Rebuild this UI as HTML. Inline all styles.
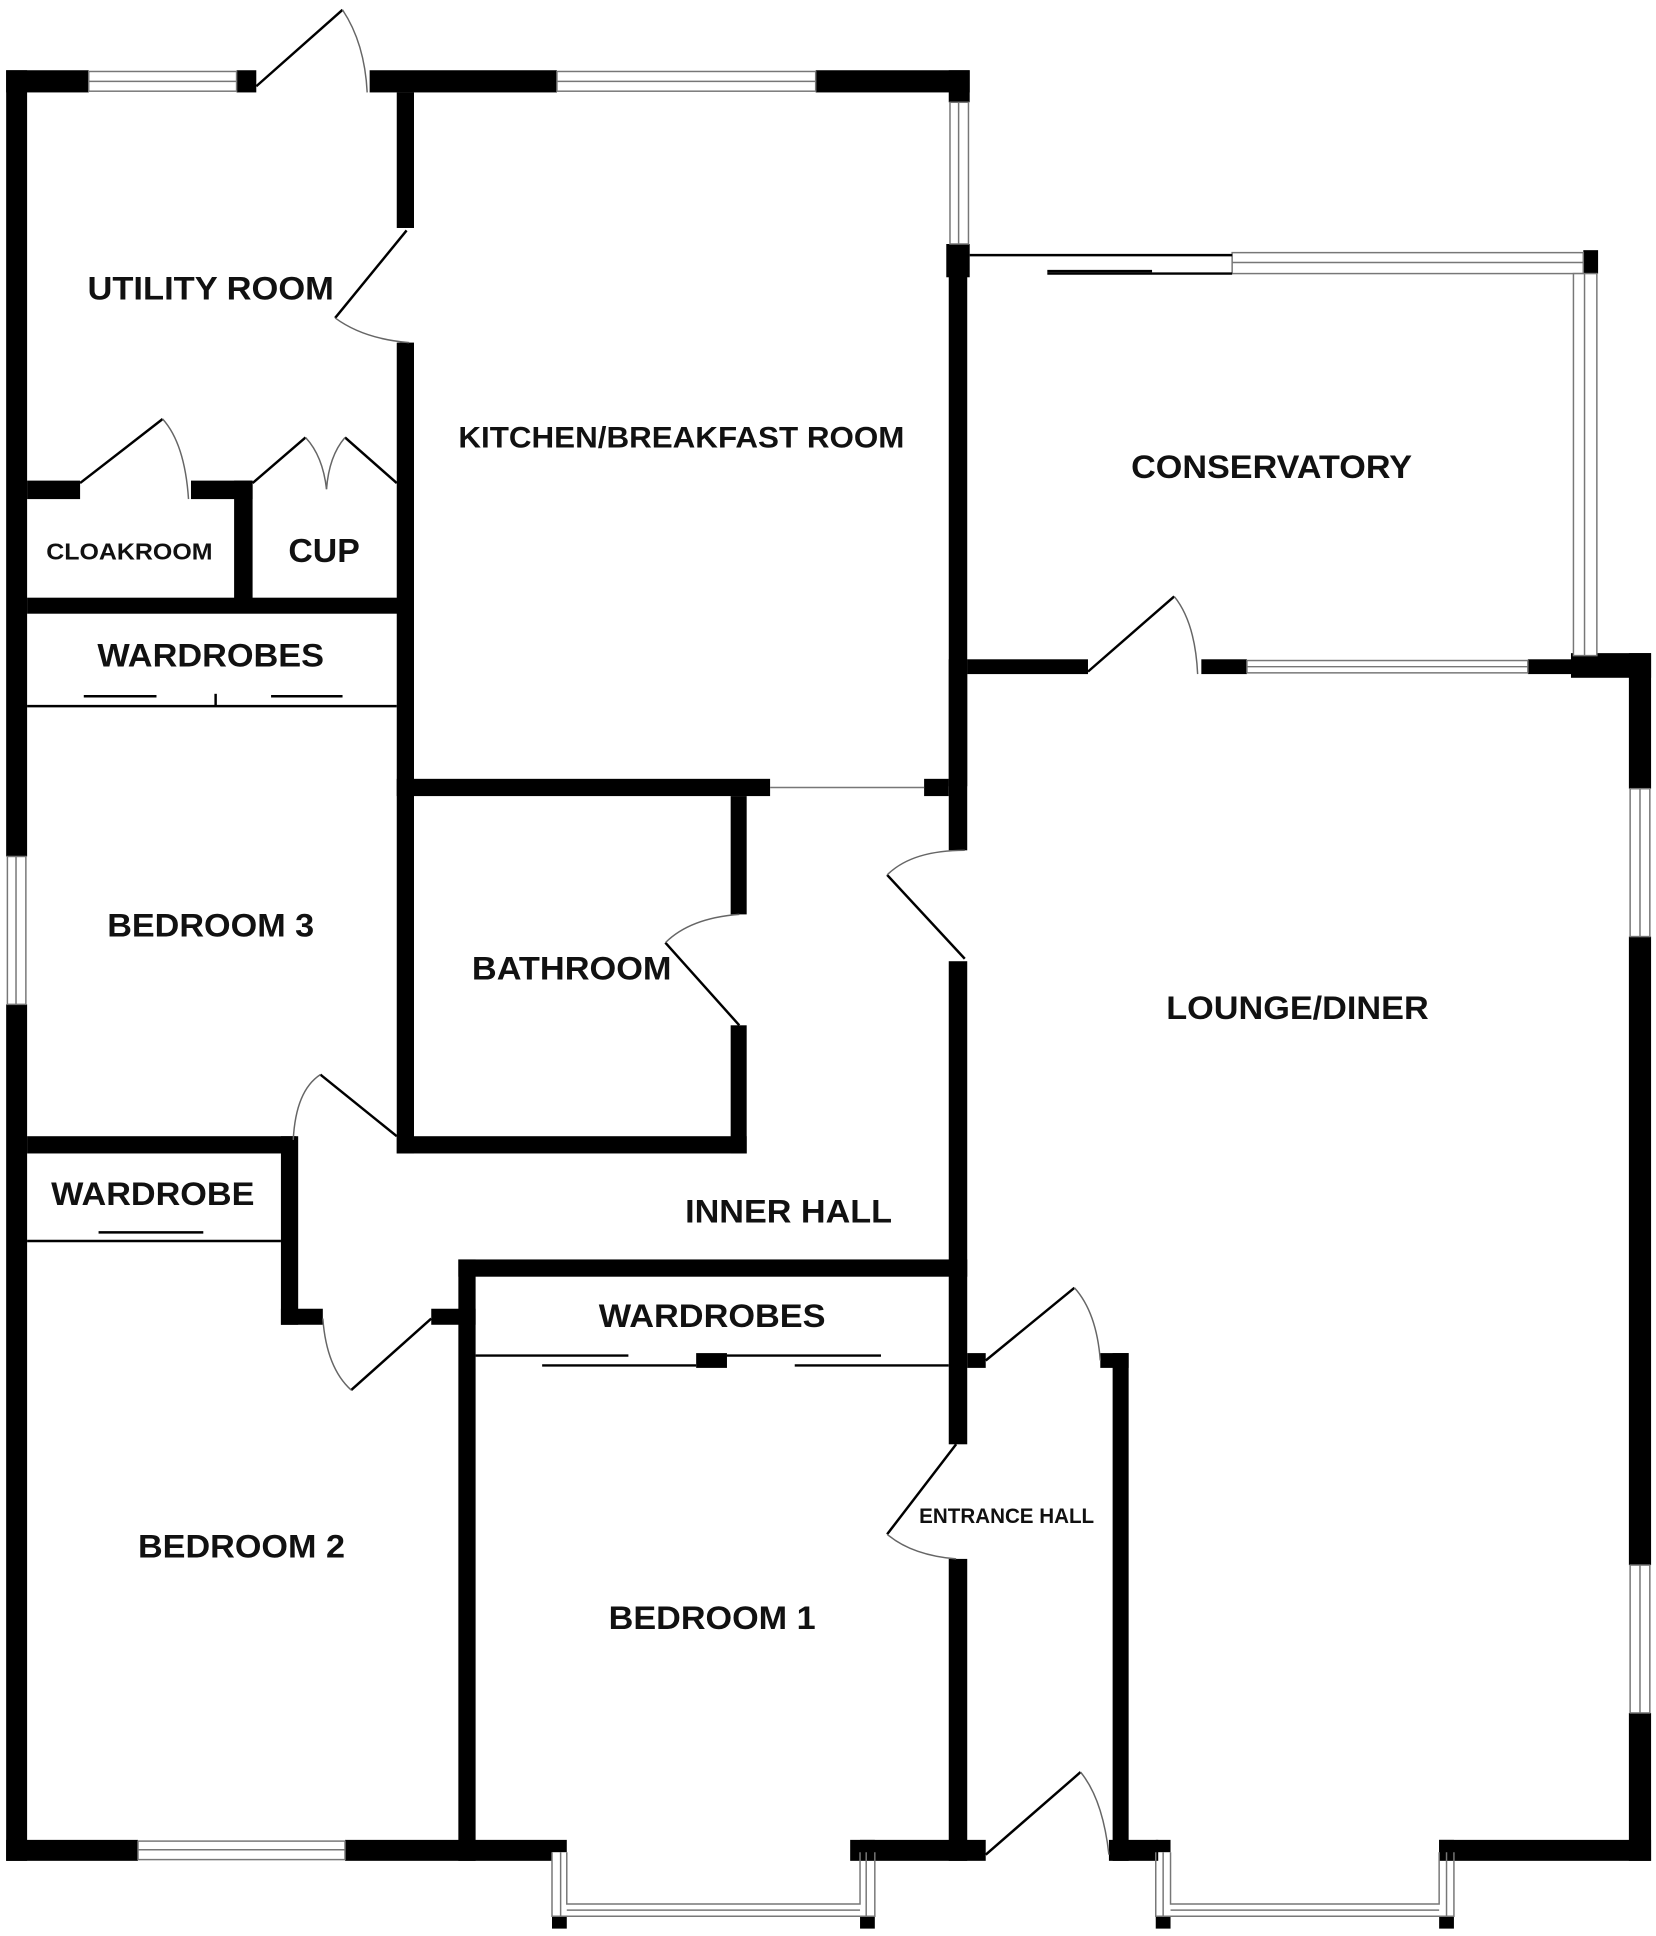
<!DOCTYPE html>
<html><head><meta charset="utf-8"><style>
html,body{margin:0;padding:0;background:#fff}
svg{display:block}
text{font-family:"Liberation Sans Narrow","Liberation Sans",sans-serif;font-weight:bold;fill:#111;text-anchor:middle}
</style></head><body>
<svg width="1656" height="1936" viewBox="0 0 1344 1571" preserveAspectRatio="none" xmlns="http://www.w3.org/2000/svg">
<g fill="#000">
<rect x="5" y="57" width="17" height="638"/>
<rect x="5" y="815" width="17" height="695"/>
<rect x="5" y="57" width="67" height="18"/>
<rect x="192" y="57" width="16" height="18"/>
<rect x="300" y="57" width="152" height="18"/>
<rect x="662" y="57" width="125" height="18"/>
<rect x="770" y="57" width="17" height="26"/>
<rect x="768" y="198" width="19" height="27"/>
<rect x="770" y="198" width="15" height="440"/>
<rect x="770" y="535" width="15" height="155"/>
<rect x="770" y="780" width="15" height="392"/>
<rect x="770" y="1265" width="15" height="245"/>
<rect x="1285" y="203" width="12" height="19"/>
<rect x="785" y="535" width="98" height="12"/>
<rect x="975" y="535" width="37" height="12"/>
<rect x="1240" y="535" width="40" height="12"/>
<rect x="1275" y="530" width="65" height="20"/>
<rect x="1322" y="530" width="18" height="110"/>
<rect x="1322" y="760" width="18" height="510"/>
<rect x="1322" y="1390" width="18" height="120"/>
<rect x="5" y="1493" width="107" height="17"/>
<rect x="280" y="1493" width="168" height="17"/>
<rect x="690" y="1493" width="110" height="17"/>
<rect x="900" y="1493" width="40" height="17"/>
<rect x="1168" y="1493" width="172" height="17"/>
<rect x="448" y="1493" width="12" height="10"/>
<rect x="448" y="1555" width="12" height="10"/>
<rect x="698" y="1493" width="12" height="10"/>
<rect x="698" y="1555" width="12" height="10"/>
<rect x="938" y="1493" width="12" height="10"/>
<rect x="938" y="1555" width="12" height="10"/>
<rect x="1168" y="1493" width="12" height="10"/>
<rect x="1168" y="1555" width="12" height="10"/>
<rect x="322" y="75" width="14" height="110"/>
<rect x="322" y="278" width="14" height="658"/>
<rect x="22" y="390" width="43" height="15"/>
<rect x="155" y="390" width="50" height="15"/>
<rect x="190" y="390" width="15" height="100"/>
<rect x="22" y="485" width="314" height="13"/>
<rect x="322" y="632" width="303" height="14"/>
<rect x="750" y="632" width="20" height="14"/>
<rect x="593" y="646" width="13" height="96"/>
<rect x="593" y="832" width="13" height="104"/>
<rect x="322" y="922" width="284" height="14"/>
<rect x="22" y="922" width="218" height="14"/>
<rect x="228" y="922" width="14" height="153"/>
<rect x="228" y="1062" width="34" height="13"/>
<rect x="350" y="1062" width="36" height="13"/>
<rect x="372" y="1022" width="14" height="488"/>
<rect x="372" y="1022" width="413" height="14"/>
<rect x="565" y="1098" width="25" height="12"/>
<rect x="785" y="1098" width="15" height="12"/>
<rect x="903" y="1098" width="13" height="412"/>
<rect x="893" y="1098" width="23" height="12"/>
</g>
<g fill="#fff" stroke="#777" stroke-width="1.2">
<rect x="72" y="58" width="120" height="16"/><line x1="72" y1="66" x2="192" y2="66"/>
<rect x="452" y="58" width="210" height="16"/><line x1="452" y1="66" x2="662" y2="66"/>
<rect x="771" y="83" width="15" height="115"/><line x1="778" y1="83" x2="778" y2="198"/>
<rect x="1000" y="205" width="285" height="17"/><line x1="1000" y1="213" x2="1285" y2="213"/>
<rect x="1277" y="222" width="19" height="310"/><line x1="1286" y1="222" x2="1286" y2="532"/>
<rect x="1012" y="536" width="228" height="10"/><line x1="1012" y1="541" x2="1240" y2="541"/>
<rect x="1323" y="640" width="16" height="120"/><line x1="1331" y1="640" x2="1331" y2="760"/>
<rect x="1323" y="1270" width="16" height="120"/><line x1="1331" y1="1270" x2="1331" y2="1390"/>
<rect x="6" y="695" width="15" height="120"/><line x1="13" y1="695" x2="13" y2="815"/>
<rect x="112" y="1494" width="168" height="15"/><line x1="112" y1="1501" x2="280" y2="1501"/>
</g>
<g fill="none" stroke="#777" stroke-width="1.2">
<path d="M448 1503 V1555 H460 M460 1503 V1545 H698 V1503 M710 1503 V1555 H698 M460 1555 H698 M455 1503 V1555 M703 1503 V1555 M460 1550 H698"/>
<path d="M938 1503 V1555 H950 M950 1503 V1545 H1168 V1503 M1180 1503 V1555 H1168 M950 1555 H1168 M944 1503 V1555 M1174 1503 V1555 M950 1550 H1168"/>
<line x1="625" y1="639" x2="750" y2="639"/>
</g>
<g stroke="#000" stroke-width="2">
<line x1="787" y1="207" x2="1000" y2="207"/>
<line x1="850" y1="220" x2="935" y2="220"/>
<line x1="850" y1="222" x2="1000" y2="222"/>
<line x1="22" y1="573" x2="322" y2="573"/>
<line x1="68" y1="565" x2="127" y2="565"/>
<line x1="220" y1="565" x2="278" y2="565"/>
<line x1="175" y1="563" x2="175" y2="573"/>
<line x1="22" y1="1007" x2="228" y2="1007"/>
<line x1="80" y1="1000" x2="165" y2="1000"/>
<line x1="386" y1="1100" x2="510" y2="1100"/>
<line x1="440" y1="1108" x2="565" y2="1108"/>
<line x1="590" y1="1100" x2="715" y2="1100"/>
<line x1="645" y1="1108" x2="770" y2="1108"/>
</g>
<g fill="none">
<g stroke="#000" stroke-width="2">
<line x1="208" y1="70" x2="278" y2="8"/>
<line x1="330" y1="187" x2="272" y2="258"/>
<line x1="65" y1="392" x2="132" y2="340"/>
<line x1="205" y1="392" x2="248" y2="355"/>
<line x1="322" y1="392" x2="280" y2="355"/>
<line x1="883" y1="545" x2="953" y2="484"/>
<line x1="783" y1="778" x2="720" y2="710"/>
<line x1="600" y1="832" x2="540" y2="765"/>
<line x1="322" y1="922" x2="260" y2="872"/>
<line x1="350" y1="1070" x2="285" y2="1128"/>
<line x1="800" y1="1104" x2="872" y2="1045"/>
<line x1="776" y1="1172" x2="720" y2="1245"/>
<line x1="800" y1="1505" x2="877" y2="1438"/>
</g>
<g stroke="#666" stroke-width="1.2">
<path d="M278 8 Q296 35 298 75"/>
<path d="M272 258 Q295 275 332 278"/>
<path d="M132 340 Q150 360 153 405"/>
<path d="M248 355 Q262 370 265 397"/>
<path d="M280 355 Q267 370 265 397"/>
<path d="M953 484 Q970 505 972 547"/>
<path d="M720 710 Q740 690 783 690"/>
<path d="M540 765 Q560 745 600 742"/>
<path d="M260 872 Q240 885 238 925"/>
<path d="M285 1128 Q265 1110 262 1070"/>
<path d="M872 1045 Q890 1065 893 1104"/>
<path d="M720 1245 Q740 1262 776 1265"/>
<path d="M877 1438 Q895 1460 900 1505"/>
</g>
</g>
<g>
<text x="171" y="243" font-size="26" textLength="200" lengthAdjust="spacingAndGlyphs">UTILITY ROOM</text>
<text x="553" y="363" font-size="24" textLength="362" lengthAdjust="spacingAndGlyphs">KITCHEN/BREAKFAST ROOM</text>
<text x="1032" y="388" font-size="26" textLength="228" lengthAdjust="spacingAndGlyphs">CONSERVATORY</text>
<text x="105" y="454" font-size="19" textLength="135" lengthAdjust="spacingAndGlyphs">CLOAKROOM</text>
<text x="263" y="456" font-size="27" textLength="58" lengthAdjust="spacingAndGlyphs">CUP</text>
<text x="171" y="541" font-size="26" textLength="184" lengthAdjust="spacingAndGlyphs">WARDROBES</text>
<text x="171" y="760" font-size="26" textLength="168" lengthAdjust="spacingAndGlyphs">BEDROOM 3</text>
<text x="464" y="795" font-size="26" textLength="162" lengthAdjust="spacingAndGlyphs">BATHROOM</text>
<text x="1053" y="827" font-size="26" textLength="213" lengthAdjust="spacingAndGlyphs">LOUNGE/DINER</text>
<text x="124" y="978" font-size="26" textLength="165" lengthAdjust="spacingAndGlyphs">WARDROBE</text>
<text x="640" y="992" font-size="26" textLength="168" lengthAdjust="spacingAndGlyphs">INNER HALL</text>
<text x="578" y="1077" font-size="26" textLength="184" lengthAdjust="spacingAndGlyphs">WARDROBES</text>
<text x="817" y="1236" font-size="17" textLength="142" lengthAdjust="spacingAndGlyphs">ENTRANCE HALL</text>
<text x="196" y="1264" font-size="26" textLength="168" lengthAdjust="spacingAndGlyphs">BEDROOM 2</text>
<text x="578" y="1322" font-size="26" textLength="168" lengthAdjust="spacingAndGlyphs">BEDROOM 1</text>
</g>
</svg>
</body></html>
